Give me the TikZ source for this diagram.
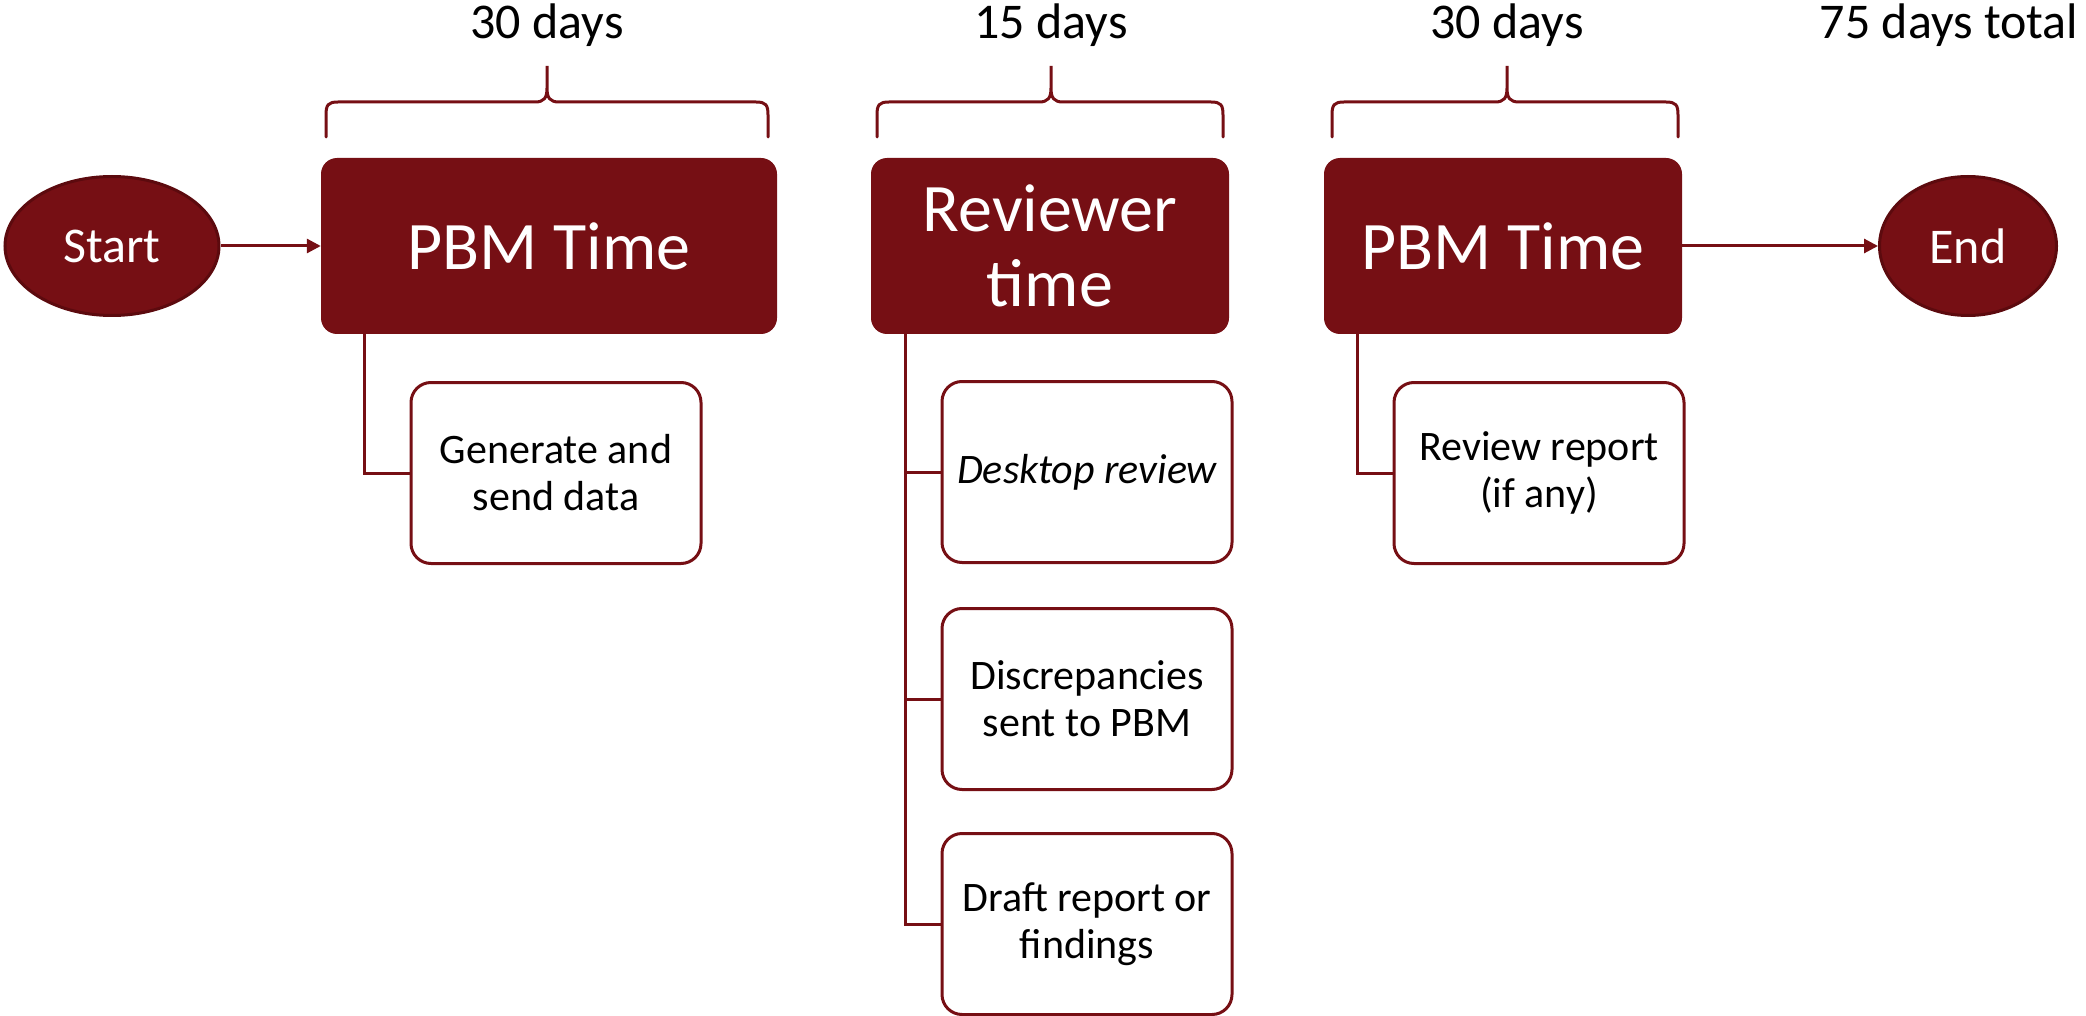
\documentclass[tikz,border=0pt]{standalone}
\usepackage{fontspec}
\setmainfont{Carlito}
\usetikzlibrary{shapes.geometric,arrows.meta}
\definecolor{wine}{RGB}{118,15,20}
\definecolor{wineedge}{RGB}{92,10,14}
\tikzset{
  mainbox/.style={rectangle, rounded corners=16pt, fill=wine, draw=none, text=white,
    minimum width=358pt, minimum height=176pt, inner sep=0pt, align=center,
    font=\fontsize{68}{75}\selectfont},
  subbox/.style={rectangle, rounded corners=20pt, fill=white, draw=wine, line width=3pt,
    minimum width=290pt, minimum height=181pt, inner sep=0pt, align=center,
    font=\fontsize{42}{47}\selectfont},
  term/.style={ellipse, fill=wine, draw=wineedge, line width=3pt, text=white,
    minimum height=139pt, inner sep=0pt, font=\fontsize{50}{56}\selectfont},
  conn/.style={draw=wine, line width=3pt},
  flow/.style={draw=wine, line width=3pt, -{Triangle[length=14pt,width=14pt]}},
  bracestyle/.style={draw=wine, line width=3pt, line cap=round},
  dur/.style={anchor=base, inner sep=0pt, font=\fontsize{50}{56}\selectfont}
}
\begin{document}
\begin{tikzpicture}[x=1pt,y=-1pt]
\useasboundingbox (0,0) rectangle (2086,1016);

% terminals
\node[term, minimum width=214pt] (start) at (112,246) {Start};
\node[term, minimum width=177pt] (end) at (1968,246) {End};

% main boxes
\node[mainbox, minimum width=456pt] (b1) at (549,246) {PBM Time};
\node[mainbox] (b2) at (1050,246) {Reviewer\\time};
\node[mainbox] (b3) at (1503,246) {PBM Time};

% sub boxes
\node[subbox] (g) at (556,473) {Generate and\\send data};
\node[subbox] (d1) at (1087,472) {\itshape Desktop review};
\node[subbox] (d2) at (1087,699) {Discrepancies\\sent to PBM};
\node[subbox] (d3) at (1087,924) {Draft report or\\findings};
\node[subbox] (r) at (1539,473) {Review report\\(if any)};

% flow arrows
\draw[flow] (start) -- (b1);
\draw[flow] (b3) -- (end);

% connectors
\coordinate (c1) at ([xshift=44pt]b1.south west);
\coordinate (c2) at ([xshift=35pt]b2.south west);
\coordinate (c3) at ([xshift=34pt]b3.south west);
\draw[conn] (c1) |- (g.west);
\draw[conn] (c2) |- (d3.west);
\draw[conn] (d1.west) -- (d1.west -| c2);
\draw[conn] (d2.west) -- (d2.west -| c2);
\draw[conn] (c3) |- (r.west);

% braces
\foreach \a/\b/\m in {326/768/547, 877/1223/1051, 1332/1678/1507}{
  \draw[bracestyle] (\a,137) -- (\a,115)
    .. controls (\a,105) and ({\a+2},102) .. ({\a+12},102)
    -- ({\m-12},102)
    .. controls ({\m-3},102) and (\m,98) .. (\m,88)
    -- (\m,66) -- (\m,88)
    .. controls (\m,98) and ({\m+3},102) .. ({\m+12},102)
    -- ({\b-12},102)
    .. controls ({\b-2},102) and (\b,105) .. (\b,115)
    -- (\b,137);
}

% durations
\node[dur] (t1) at (547,39) {30 days};
\node[dur] (t2) at (1051,39) {15 days};
\node[dur] (t3) at (1507,39) {30 days};
\node[dur] (t4) at (1949,39) {75 days total};
\end{tikzpicture}
\end{document}
